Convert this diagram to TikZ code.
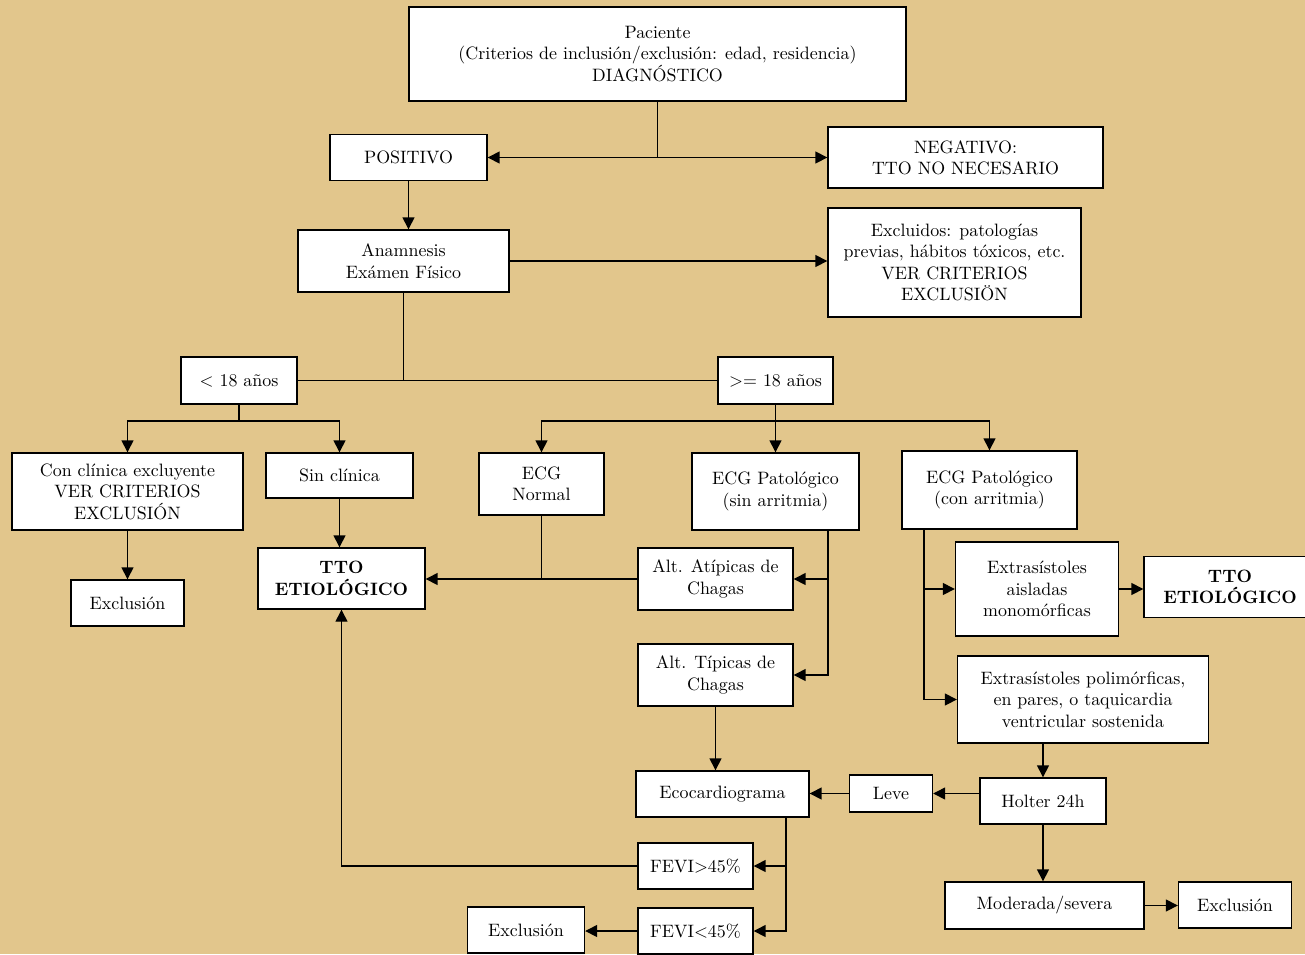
\documentclass[tikz,border=0pt]{standalone}
\usetikzlibrary{arrows.meta}
\definecolor{pergamino}{RGB}{226,198,140}
\tikzset{
  caja/.style={draw, fill=white, line width=0.8pt, align=center, inner sep=2pt,
    font=\fontsize{10.2}{12.2}\selectfont},
  flecha/.style={-{Triangle[length=2.4mm,width=2.4mm]}, line width=0.8pt},
  linea/.style={line width=0.8pt}
}
\begin{document}
\begin{tikzpicture}[x=0.02cm, y=-0.02cm]
% fondo
\fill[pergamino] (0,0) rectangle (1305,954);
\useasboundingbox (0,0) rectangle (1305,954);

% cajas
\node[caja, minimum width=9.94cm, minimum height=1.88cm] (pac) at (657.5,54)
  {Paciente\\(Criterios de inclusión/exclusión: edad, residencia)\\DIAGNÓSTICO};
\node[caja, minimum width=3.14cm, minimum height=0.92cm] (pos) at (408.5,157.5) {POSITIVO};
\node[caja, minimum width=5.5cm, minimum height=1.22cm] (neg) at (965.5,157.5)
  {NEGATIVO:\\TTO NO NECESARIO};
\node[caja, minimum width=4.22cm, minimum height=1.24cm] (anam) at (403.5,261)
  {Anamnesis\\Exámen Físico};
\node[caja, minimum width=5.06cm, minimum height=2.18cm] (excl) at (954.5,262.5)
  {Excluidos: patologías\\previas, hábitos tóxicos, etc.\\VER CRITERIOS\\EXCLUSIÖN};

\node[caja, minimum width=2.32cm, minimum height=0.94cm] (men) at (239,380.5) {< 18 años};
\node[caja, minimum width=2.3cm, minimum height=0.94cm] (may) at (775.5,380.5) {>= 18 años};

\node[caja, minimum width=4.62cm, minimum height=1.54cm] (con) at (127.5,491.5)
  {Con clínica excluyente\\VER CRITERIOS\\EXCLUSIÓN};
\node[caja, minimum width=2.94cm, minimum height=0.9cm] (sin) at (339.5,475.5) {Sin clínica};
\node[caja, minimum width=2.5cm, minimum height=1.24cm] (ecgn) at (541.5,484) {ECG\\Normal};
\node[caja, minimum width=3.34cm, minimum height=1.54cm] (ecgp) at (775.5,491.5)
  {ECG Patológico\\(sin arritmia)};
\node[caja, minimum width=3.5cm, minimum height=1.56cm] (ecga) at (989.5,490)
  {ECG Patológico\\(con arritmia)};

\node[caja, minimum width=2.26cm, minimum height=0.92cm] (exc1) at (127.5,603) {Exclusión};
\node[caja, minimum width=3.34cm, minimum height=1.22cm, font=\fontsize{10.2}{12.2}\selectfont\bfseries]
  (tto1) at (341.5,578.5) {TTO\\ETIOLÓGICO};
\node[caja, minimum width=3.1cm, minimum height=1.24cm] (atip) at (715.5,579)
  {Alt. Atípicas de\\Chagas};
\node[caja, minimum width=3.1cm, minimum height=1.24cm] (tip) at (715.5,675)
  {Alt. Típicas de\\Chagas};
\node[caja, minimum width=3.26cm, minimum height=1.88cm] (exta) at (1037,589)
  {Extrasístoles\\aisladas\\monomórficas};
\node[caja, minimum width=3.44cm, minimum height=1.22cm, font=\fontsize{10.2}{12.2}\selectfont\bfseries]
  (tto2) at (1230,587) {TTO\\ETIOLÓGICO};
\node[caja, minimum width=5.02cm, minimum height=1.74cm] (extp) at (1083,699.5)
  {Extrasístoles polimórficas,\\en pares, o taquicardia\\ventricular sostenida};

\node[caja, minimum width=3.46cm, minimum height=0.92cm] (eco) at (722.5,794) {Ecocardiograma};
\node[caja, minimum width=1.66cm, minimum height=0.74cm] (leve) at (891,793.5) {Leve};
\node[caja, minimum width=2.52cm, minimum height=0.92cm] (holter) at (1043,801) {Holter 24h};
\node[caja, minimum width=2.3cm, minimum height=0.92cm] (fevim) at (695.5,866) {FEVI>45\%};
\node[caja, minimum width=2.3cm, minimum height=0.92cm] (fevil) at (695.5,931) {FEVI<45\%};
\node[caja, minimum width=2.34cm, minimum height=0.92cm] (exc2) at (526,930) {Exclusión};
\node[caja, minimum width=3.98cm, minimum height=0.94cm] (mod) at (1044.5,905.5) {Moderada/severa};
\node[caja, minimum width=2.26cm, minimum height=0.92cm] (exc3) at (1235,905) {Exclusión};

% diagnóstico
\coordinate (j1) at (657.5,157.5);
\draw[linea] (pac.south) -- (j1);
\draw[flecha] (j1) -- (pos.east);
\draw[flecha] (j1) -- (neg.west);
\draw[flecha] (pos.south) -- (pos.south |- anam.north);
\draw[flecha] (anam.east) -- (anam.east -| excl.west);

% edad
\draw[linea] (men.east) -- (may.west);
\draw[linea] (anam.south) -- (anam.south |- men.east);

\coordinate (j2) at (239,421);
\draw[linea] (men.south) -- (j2);
\draw[flecha] (j2) -| (con.north);
\draw[flecha] (j2) -| (sin.north);

\coordinate (j3) at (775.5,421);
\draw[linea] (may.south) -- (j3);
\draw[flecha] (j3) -| (ecgn.north);
\draw[flecha] (j3) -- (ecgp.north);
\draw[flecha] (j3) -| (ecga.north);

% menores
\draw[flecha] (con.south) -- (exc1.north);
\draw[flecha] (sin.south) -- (sin.south |- tto1.north);

% ECG normal / sin arritmia
\draw[flecha] (atip.west) -- (atip.west -| tto1.east);
\draw[linea] (ecgn.south) -- (ecgn.south |- atip.west);
\draw[flecha] ([xshift=1.05cm]ecgp.south) |- (tip.east);
\draw[flecha] ([xshift=1.05cm]ecgp.south |- atip.east) -- (atip.east);
\draw[flecha] (tip.south) -- (tip.south |- eco.north);

% con arritmia
\draw[flecha] ([xshift=-1.31cm]ecga.south) |- (extp.west);
\draw[flecha] ([xshift=-1.31cm]ecga.south |- exta.west) -- (exta.west);
\draw[flecha] (exta.east) -- (exta.east -| tto2.west);
\draw[flecha] (holter.north |- extp.south) -- (holter.north);
\draw[flecha] (leve.east -| holter.west) -- (leve.east);
\draw[flecha] (leve.west) -- (leve.west -| eco.east);
\draw[flecha] (holter.south) -- (holter.south |- mod.north);
\draw[flecha] (mod.east) -- (mod.east -| exc3.west);

% ecocardiograma
\draw[flecha] ([xshift=1.27cm]eco.south) |- (fevil.east);
\draw[flecha] ([xshift=1.27cm]eco.south |- fevim.east) -- (fevim.east);
\draw[flecha] (fevim.west) -| (tto1.south);
\draw[flecha] (fevil.west) -- (fevil.west -| exc2.east);

\end{tikzpicture}
\end{document}
